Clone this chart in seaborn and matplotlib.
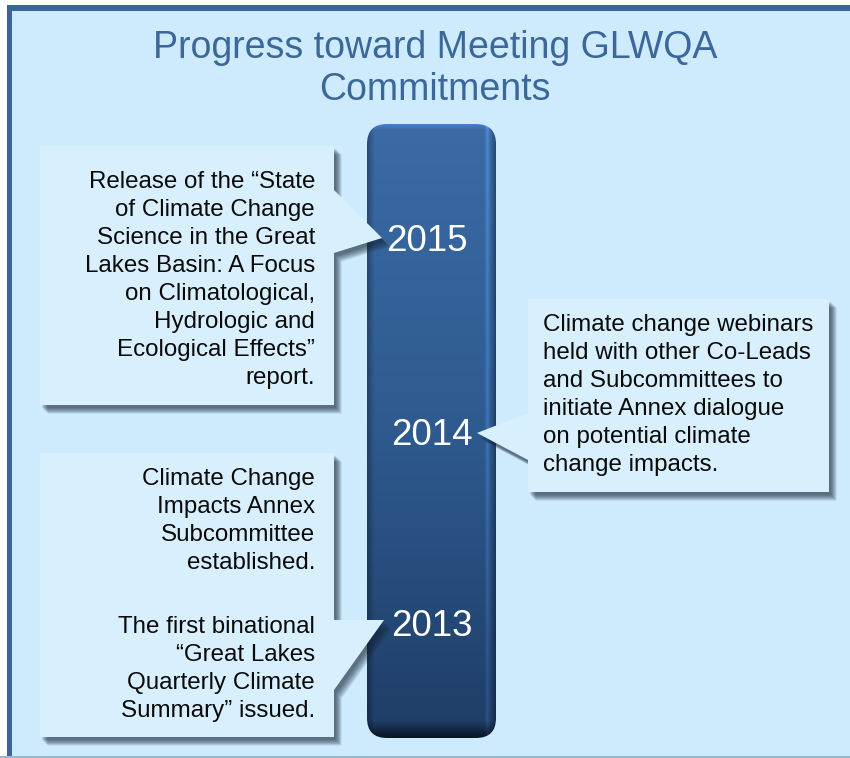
import numpy as np
import matplotlib
matplotlib.use("Agg")
import matplotlib.pyplot as plt
from matplotlib.patches import Rectangle, Polygon, FancyBboxPatch
import seaborn as sns

# --- content -------------------------------------------------------------
title_lines = ["Progress toward Meeting GLWQA", "Commitments"]
years = ["2015", "2014", "2013"]
note_2015 = ["Release of the \u201cState", "of Climate Change", "Science in the Great",
             "Lakes Basin: A Focus", "on Climatological,", "Hydrologic and",
             "Ecological Effects\u201d", "report."]
note_2014 = ["Climate change webinars", "held with other Co-Leads",
             "and Subcommittees to", "initiate Annex dialogue",
             "on potential climate", "change impacts."]
note_2013a = ["Climate Change", "Impacts Annex", "Subcommittee", "established."]
note_2013b = ["The first binational", "\u201cGreat Lakes", "Quarterly Climate",
              "Summary\u201d issued."]

W, H = 850, 758
bg = "#CDEBFD"
box_fill = "#D8EFFD"
frame_col = "#3B6498"
title_col = "#3C679A"

sns.set_theme(style="white")
plt.rcParams['font.family'] = ['Liberation Sans', 'DejaVu Sans']

fig = plt.figure(figsize=(8.5, 7.58), dpi=100)
ax = fig.add_axes([0, 0, 1, 1])
ax.set_xlim(0, W)
ax.set_ylim(H, 0)
ax.axis('off')

# frame (top and left only) + background
ax.add_patch(Rectangle((7, 5), W, H - 7, facecolor=frame_col, edgecolor='none', zorder=0))
ax.add_patch(Rectangle((12, 11), W, H - 2 - 11, facecolor=bg, edgecolor='none', zorder=0))
ax.add_patch(Rectangle((0, H - 2), W, 2, facecolor="#9DB6CE", edgecolor='none', zorder=0))

for i, line in enumerate(title_lines):
    ax.text(435, 58 + 42 * i, line, ha='center', va='baseline', fontsize=27,
            color=title_col, zorder=5)


def callout(pts, zorder=4):
    pts = np.array(pts, dtype=float)
    # soft shadow, several offset layers
    for k in range(8):
        off = np.array([2 + k * 0.8, 3 + k * 0.8])
        ax.add_patch(Polygon(pts + off, closed=True, facecolor="#142436",
                             edgecolor='none', alpha=0.11, zorder=zorder))
    ax.add_patch(Polygon(pts, closed=True, facecolor=box_fill,
                         edgecolor='none', zorder=zorder + 0.5))


def write_lines(lines, x, y0, ha, step=28):
    for i, line in enumerate(lines):
        ax.text(x, y0 + step * i, line, ha=ha, va='baseline', fontsize=17.4,
                color="#0A0A0A", zorder=6)


# timeline bar with vertical gradient
bx, by, bw, bh = 367, 124, 129, 614
bar = FancyBboxPatch((bx, by), bw, bh, boxstyle="round,pad=0,rounding_size=20",
                     facecolor='none', edgecolor='none', zorder=3)
ax.add_patch(bar)

grad = np.array(sns.blend_palette(["#3B6AA5", "#2E5A8F", "#1F3D66"], n_colors=bh))
img = np.repeat(grad[:, None, :], bw, axis=1)
shade = np.ones(bw)
shade[:8] = np.linspace(0.72, 1.0, 8)
shade[-12:-5] = np.array([1.03, 1.1, 1.2, 1.28, 1.2, 1.1, 1.0])
shade[-5:] = np.linspace(0.95, 0.7, 5)
img = img * shade[None, :, None]
vshade = np.ones(bh)
vshade[-18:] = np.linspace(1.0, 0.35, 18)
vshade[:6] = np.linspace(1.2, 1.0, 6)
img = np.clip(img * vshade[:, None, None], 0, 1)
im = ax.imshow(img, extent=(bx, bx + bw, by + bh, by), aspect='auto',
               interpolation='bilinear', zorder=3)
im.set_clip_path(bar)
ax.set_xlim(0, W)
ax.set_ylim(H, 0)

# callout boxes (pixel layout), drawn above the bar
callout([(40, 146), (334, 146), (334, 190), (382, 238), (334, 253), (334, 405), (40, 405)])
callout([(528, 299), (829, 299), (829, 492), (528, 492), (528, 460), (477, 433), (528, 413)])
callout([(40, 453), (334, 453), (334, 620), (384, 620), (334, 690), (334, 737), (40, 737)])

write_lines(note_2015, 315, 188, 'right')
write_lines(note_2014, 543, 331, 'left')
write_lines(note_2013a, 315, 485, 'right')
write_lines(note_2013b, 315, 633, 'right')

year_pos = [(427, 251), (432, 445), (432, 636)]
for yr, (x, y) in zip(years, year_pos):
    ax.text(x, y, yr, ha='center', va='baseline', fontsize=26.5, color='white', zorder=7)

fig.savefig("out.png", dpi=100, facecolor='white')
